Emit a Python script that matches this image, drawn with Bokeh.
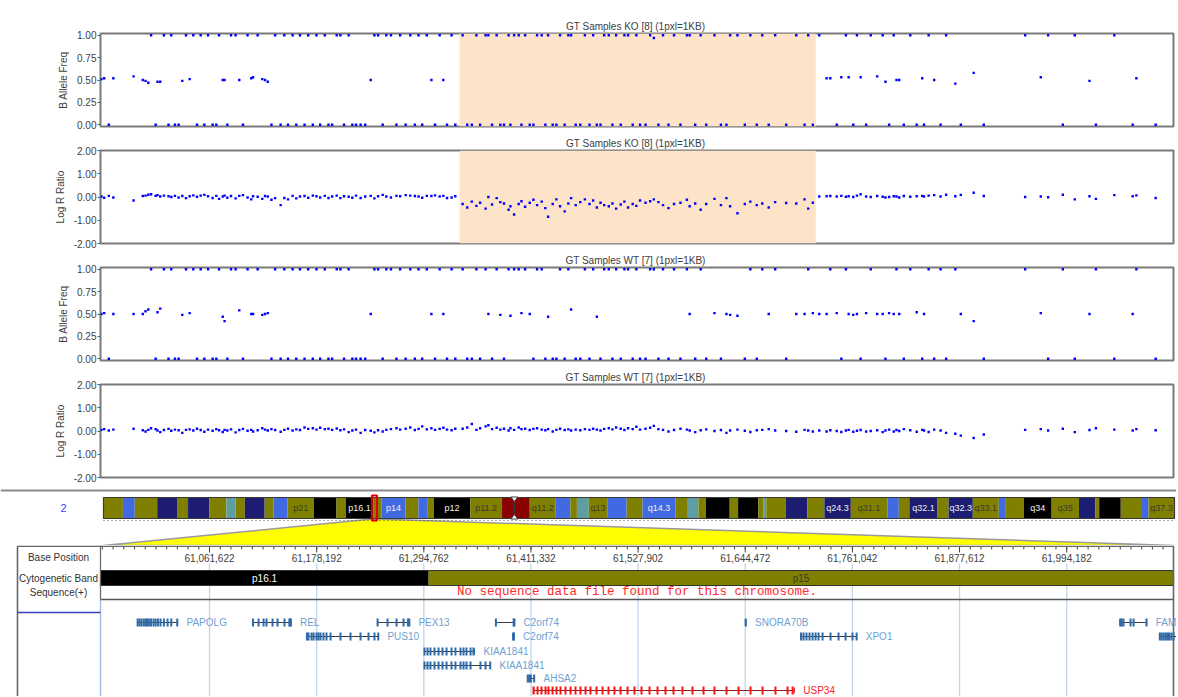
import numpy as np
from bokeh.plotting import figure
from bokeh.layouts import column
from bokeh.models import Range1d, BoxAnnotation, FixedTicker, PrintfTickFormatter
from bokeh.core.properties import value
from bokeh.embed import file_html
from bokeh.resources import INLINE

# ============================ DATA ============================
CHROM = "2"
VIEW_BP = [60943000, 62110400]          # window shown (1 pxl = 1 KB)
DEL_KB = [61333.7, 61721.2]             # highlighted (deleted) region in KO

PANEL_TITLES = ["GT Samples KO [8]  (1pxl=1KB)", "GT Samples KO [8]  (1pxl=1KB)",
                "GT Samples WT [7]  (1pxl=1KB)", "GT Samples WT [7]  (1pxl=1KB)"]
BAF_TICKS = [0.0, 0.25, 0.5, 0.75, 1.0]
LRR_TICKS = [-2.0, -1.0, 0.0, 1.0, 2.0]

# SNP positions (kb)
SNP_KB = [
    60944, 60947, 60952, 60957, 60979, 60989, 60992, 60995, 60998, 61003,
    61005, 61008, 61012, 61017, 61020, 61024, 61028, 61032, 61036, 61040,
    61044, 61048, 61052, 61056, 61060, 61065, 61069, 61072, 61076, 61078,
    61081, 61085, 61090, 61094, 61098, 61103, 61107, 61109, 61114, 61119,
    61122, 61125, 61129, 61133, 61139, 61143, 61147, 61152, 61156, 61160,
    61165, 61169, 61174, 61178, 61182, 61187, 61191, 61195, 61200, 61204,
    61208, 61213, 61217, 61221, 61226, 61231, 61237, 61241, 61245, 61250,
    61254, 61259, 61265, 61269, 61275, 61280, 61285, 61289, 61293, 61298,
    61303, 61307, 61312, 61316, 61320, 61325, 61329,
    61337, 61342, 61347, 61352, 61356, 61362, 61365, 61369, 61374, 61378,
    61382, 61387, 61389, 61393, 61398, 61401, 61405, 61410, 61414, 61418,
    61423, 61427, 61430, 61435, 61439, 61443, 61448, 61452, 61455, 61460,
    61465, 61470, 61475, 61479, 61483, 61487, 61491, 61496, 61500, 61504,
    61509, 61513, 61517, 61522, 61526, 61530, 61536, 61541, 61545, 61550,
    61555, 61561, 61567, 61574, 61581, 61584, 61590, 61596, 61602, 61611,
    61618, 61624, 61628, 61636, 61644, 61650, 61657, 61663, 61670, 61677,
    61689, 61700, 61709, 61713, 61718,
    61725, 61733, 61737, 61744, 61749, 61754, 61757, 61762, 61766, 61770,
    61776, 61781, 61788, 61794, 61797, 61801, 61806, 61809, 61812, 61817,
    61824, 61831, 61837, 61839, 61844, 61850, 61857, 61863, 61873, 61879,
    61893, 61904, 61949, 61966, 61974, 61990, 62003, 62019, 62026, 62046,
    62066, 62070, 62091,
]

KO_BAF = [
    .51, .52, 0, .52, .54, .50, .49, .47, 1, 0,
    .48, .48, 1, 0, 1, 0, 0, .49, 1, .51,
    1, 0, 1, 0, 1, 0, 0, 1, .50, .50,
    0, 1, 1, .50, 0, 1, .52, .53, 1, .51,
    .50, .48, 0, 1, 0, 1, 0, 1, 0, 1,
    0, 1, 0, 1, 0, 1, 0, 0, 1, 1,
    0, 1, 0, 0, 0, 0, .50, 1, 1, 0,
    1, 1, 0, 1, 0, 1, 0, 1, 0, 1,
    .50, 0, 1, .50, 0, 1, 0,
    1, 0, 0, 1, 0, 1, 1, 0, 1, 0,
    0, 1, 0, 1, 1, 0, 1, 0, 0, 1,
    1, 0, 1, 0, 0, 1, 0, 1, 1, 0,
    0, 1, 0, 1, 0, 0, 1, 1, 0, 1,
    0, 1, 1, 0, 1, 0, 0, 1, .97, 0,
    1, 0, 1, 0, 1, 1, 0, 1, 0, 1,
    0, 0, 1, 1, 0, 1, 0, 1, 0, 1,
    0, 1, 0, 1, 0,
    1, .52, .52, 0, .53, 1, .53, 0, 1, .53,
    0, 1, .54, 1, .48, 0, 1, .50, .50, 0,
    1, 0, .52, 0, 1, .50, 0, 1, .46, 0,
    .58, 0, 1, .53, 1, 0, 1, .49, 0, 1,
    0, .52, 0,
]

KO_LRR = [
    .02, -.03, .05, -.02, -.15, .04, .06, .10, .12, .05,
    .08, .02, .06, .03, .00, .05, -.02, .04, -.05, .03,
    .07, .01, .06, .09, .03, -.04, .05, -.08, .02, .06,
    -.03, .04, -.06, .05, .08, -.02, -.10, .03, .01, -.08,
    .04, .02, -.12, -.05, -.35, -.04, -.10, .05, -.06, .02,
    .04, -.03, .06, .03, -.02, .05, -.04, .02, .06, -.05,
    .03, .01, -.03, .06, -.04, .02, .05, -.06, .03, .09,
    .02, -.02, .05, .03, .08, .06, .04, .02, -.03, .05,
    .04, .07, .02, .05, -.04, -.02, .03,
    -.30, -.45, -.20, -.38, -.25, -.50, .00, -.32, -.05, -.22,
    -.28, -.55, -.40, -.75, -.30, -.18, -.42, -.25, -.12, -.35,
    -.20, -.48, -.85, -.30, -.10, -.40, -.62, -.28, -.05, -.35,
    -.22, -.10, -.30, -.15, -.45, -.25, -.35, -.40, -.28, -.50,
    -.32, -.20, -.45, -.30, -.38, -.15, -.25, -.18, -.10, -.22,
    -.35, -.48, -.30, -.25, -.12, -.40, -.28, -.55, -.30, -.08,
    -.35, -.05, -.40, -.70, -.30, -.20, -.35, -.28, -.45, -.22,
    -.26, -.28, -.10, -.50, -.25,
    .02, .03, .04, .02, .05, .01, .03, .00, .06, .12,
    .02, .00, .04, .01, -.02, .00, .03, .02, -.02, .04,
    .01, .03, .05, .02, .06, .08, .02, .10, .03, .09,
    .18, .04, .00, .02, -.01, .10, -.10, .03, -.08, .08,
    .03, .07, -.04,
]

WT_BAF = [
    .50, .51, 0, .50, .50, .50, .53, .55, 1, 0,
    .52, .56, 1, 0, 1, 0, 0, .49, 1, .51,
    1, 0, 1, 0, 1, 0, 0, 1, .47, .42,
    0, 1, 1, .54, 0, 1, .50, .50, 1, .49,
    .50, .51, 0, 1, 0, 1, 0, 1, 0, 1,
    0, 1, 0, 1, 0, 1, 0, 0, 1, 1,
    0, 1, 0, 0, 0, 0, .50, 1, 1, 0,
    1, 1, 0, 1, 0, 1, 0, 1, 0, 1,
    .50, 0, 1, .50, 0, 1, 0,
    1, 0, 0, 1, 0, 1, .50, 0, 1, .49,
    0, 1, .48, 1, 1, .51, 1, .50, 0, 1,
    1, 0, .47, 0, 0, 1, 0, 1, .55, 0,
    0, 1, 0, 1, .47, 0, 1, 1, 0, 1,
    0, 1, 1, 0, 1, 0, 0, 1, 1, 0,
    1, 0, 1, 0, 1, .50, 0, 1, 0, .51,
    0, .50, .49, .48, 0, 1, 0, 1, .50, 1,
    0, .50, .50, 1, .51,
    .50, .50, 1, .51, 0, 1, .50, .49, .50, 0,
    .51, 1, .50, .50, 0, .51, .50, 1, .50, 0,
    1, .52, 0, .50, 1, 0, 1, 0, 1, .50,
    .42, 0, 1, .51, 0, 1, 0, .50, 1, 0,
    .50, 1, 0,
]

WT_LRR = [
    .05, .08, .02, .06, .10, .03, -.02, .05, .12, .08,
    .02, -.05, .04, .09, .01, .06, .03, -.08, .05, .07,
    .02, .10, .04, -.03, .06, .01, .08, .03, -.04, .05,
    .02, .07, -.06, .04, .09, .01, .05, -.02, .03, .12,
    .06, .02, .08, .04, -.03, .05, .10, .02, .07, .04,
    .15, .09, .12, .06, .14, .08, .10, .05, .11, .03,
    .07, -.05, .02, .06, -.08, .04, .01, -.06, .03, -.02,
    .05, .08, .12, .06, .10, .15, .04, .09, .20, .07,
    .12, .05, .09, .14, .06, .03, .10,
    .10, .15, .30, .05, .12, .20, .25, .08, .14, .06,
    .10, .02, .12, .05, .15, .08, .10, .04, .09, .12,
    .06, .03, .08, -.02, .05, .10, .04, .07, .02, .06,
    .03, .08, .05, .10, .06, .02, .09, .12, .07, .15,
    .10, .04, .12, .08, .18, .06, .10, .14, .22, .08,
    .05, -.02, .04, .10, .06, .02, -.05, .03, .07, .00,
    .04, -.08, .02, .06, .01, -.04, .03, .05, .08, .02,
    .00, -.03, .05, .02, -.02,
    .02, -.02, .03, .00, -.04, .02, .05, -.03, .01, .04,
    -.02, .00, .03, -.05, .02, .06, -.02, .04, .00, .08,
    .03, -.03, .05, .02, -.04, .06, .02, -.08, -.12, -.20,
    -.30, -.15, .05, .08, .02, .10, -.05, .04, .12, .06,
    .02, .08, .03,
]

# Chromosome 2 cytobands (Mb)
CHR2_LEN_MB = 243.2
CEN_MB = 93.3
BAND_NAME = ["p25.3", "p25.2", "p25.1", "p24.3", "p24.2", "p24.1", "p23.3", "p23.2", "p23.1",
             "p22.3", "p22.2", "p22.1", "p21", "p16.3", "p16.2", "p16.1", "p15", "p14",
             "p13.3", "p13.2", "p13.1", "p12", "p11.2", "p11.1", "q11.1", "q11.2", "q12.1",
             "q12.2", "q12.3", "q13", "q14.1", "q14.2", "q14.3", "q21.1", "q21.2", "q21.3",
             "q22.1", "q22.2", "q22.3", "q23.1", "q23.2", "q23.3", "q24.1", "q24.2", "q24.3",
             "q31.1", "q31.2", "q31.3", "q32.1", "q32.2", "q32.3", "q33.1", "q33.2", "q33.3",
             "q34", "q35", "q36.1", "q36.2", "q36.3", "q37.1", "q37.2", "q37.3"]
BAND_START = [0, 4.4, 7.1, 12.2, 16.7, 19.2, 24.0, 27.9, 30.0, 32.1, 36.6, 38.6, 41.8, 47.8,
              52.9, 55.0, 61.3, 63.1, 68.6, 71.5, 73.5, 75.0, 83.3, 90.5, 93.3, 96.8, 102.7,
              106.0, 107.5, 110.2, 114.4, 118.8, 122.4, 129.9, 132.5, 135.1, 136.8, 142.2,
              144.1, 148.7, 149.9, 150.5, 154.9, 159.8, 163.7, 169.7, 178.0, 180.6, 183.0,
              189.4, 191.9, 197.4, 203.3, 204.9, 209.0, 215.3, 221.5, 225.2, 226.1, 231.0,
              235.6, 237.3]
BAND_STAIN = ["gneg", "gpos50", "gneg", "gpos75", "gneg", "gpos75", "gneg", "gpos25", "gneg",
              "gpos75", "gneg", "gpos50", "gneg", "gpos100", "gneg", "gpos100", "gneg", "gpos50",
              "gneg", "gpos50", "gneg", "gpos100", "gneg", "acen", "acen", "gneg", "gpos50",
              "gneg", "gpos25", "gneg", "gpos50", "gneg", "gpos50", "gneg", "gpos25", "gneg",
              "gpos100", "gneg", "gpos100", "gneg", "gpos25", "gneg", "gpos75", "gneg", "gpos75",
              "gneg", "gpos50", "gneg", "gpos75", "gneg", "gpos75", "gneg", "gpos50", "gneg",
              "gpos100", "gneg", "gpos75", "gneg", "gpos100", "gneg", "gpos50", "gneg"]
IDEO_LABELS = ["p21", "p16.1", "p14", "p12", "p11.2", "q11.2", "q13", "q14.3", "q24.3",
               "q31.1", "q32.1", "q32.3", "q33.1", "q34", "q35", "q37.3"]

# Genome browser track
BASE_TICKS = [61061622, 61178192, 61294762, 61411332, 61527902, 61644472, 61761042,
              61877612, 61994182]
TRACK_LABELS = ["Base Position", "Cytogenetic Band", "Sequence(+)"]
SEQ_MSG = "No sequence data file found for this chromosome."

GENE_NAME = ["PAPOLG", "REL", "PEX13", "C2orf74", "SNORA70B", "FAM161A", "PUS10", "C2orf74",
             "XPO1", "CCT4", "KIAA1841", "KIAA1841", "AHSA2", "USP34"]
GENE_ROW = [0, 0, 0, 0, 0, 0, 1, 1, 1, 1, 2, 3, 4, 5]
GENE_START_KB = [60983.4, 61108.8, 61244.3, 61373.0, 61644.6, 62052.0, 61167.4, 61391.5,
                 61705.0, 62095.2, 61295.5, 61295.5, 61407.6, 61414.6]
GENE_END_KB = [61026.8, 61150.2, 61279.1, 61393.5, 61645.4, 62081.3, 61245.4, 61393.0,
               61765.8, 62115.9, 61349.9, 61367.3, 61415.2, 61697.8]
GENE_EXONS_KB = [
    [60983.4, 60985.5, 60987.6, 60990.0, 60992.0, 60993.5, 60995.6, 60998.0, 61000.7,
     61003.0, 61005.5, 61008.3, 61012.0, 61016.0, 61020.0, 61026.5],
    [61108.9, 61115.0, 61120.4, 61123.6, 61130.2, 61135.6, 61143.2, 61148.5, 61149.5, 61150.0],
    [61244.5, 61255.3, 61265.1, 61272.7, 61277.5, 61279.0],
    [61373.2, 61392.5, 61393.3],
    [61645.0],
    [62052.5, 62054.0, 62056.0, 62063.7, 62067.0, 62081.0],
    [61167.6, 61169.3, 61172.6, 61174.8, 61178.0, 61180.2, 61182.4, 61185.6, 61188.9,
     61193.3, 61204.1, 61215.0, 61225.9, 61234.6, 61241.1, 61245.2],
    [61392.0, 61392.8],
    [61705.2, 61707.9, 61711.1, 61714.4, 61717.7, 61721.0, 61724.2, 61728.6, 61737.3,
     61746.0, 61753.6, 61761.2, 61765.6],
    [62095.5, 62097.4, 62099.5, 62101.5, 62103.5, 62105.5, 62108.0, 62110.5],
    [61295.5, 61298.8, 61302.0, 61306.4, 61310.8, 61315.1, 61319.5, 61324.9, 61329.2,
     61334.7, 61338.0, 61341.2, 61345.6, 61348.8],
    [61295.5, 61298.8, 61302.0, 61306.4, 61310.8, 61315.1, 61319.5, 61324.9, 61329.2,
     61334.7, 61338.0, 61341.2, 61345.6, 61356.4, 61361.9, 61367.0],
    [61407.8, 61409.5, 61411.2, 61414.8],
    [61414.1, 61418.5, 61422.8, 61427.2, 61430.4, 61434.8, 61439.1, 61443.5, 61448.9,
     61454.4, 61459.8, 61465.2, 61470.7, 61476.1, 61482.7, 61489.2, 61495.7, 61502.2,
     61508.8, 61516.4, 61524.0, 61531.6, 61540.3, 61549.0, 61557.7, 61566.4, 61576.2,
     61587.1, 61599.1, 61611.0, 61624.1, 61637.2, 61650.2, 61663.3, 61677.4, 61690.5,
     61696.0],
]
HIGHLIGHT_GENE = "USP34"

assert len(SNP_KB) == len(KO_BAF) == len(KO_LRR) == len(WT_BAF) == len(WT_LRR)
assert len(BAND_NAME) == len(BAND_START) == len(BAND_STAIN)

# ============================ LAYOUT / STYLE ============================
W = 1176
FONT = "Liberation Sans"
FRAME_L, FRAME_R = 100, 1173         # canvas x of data frame
IDEO_L, IDEO_R = 103, 1174           # canvas x of chromosome ends
TXT = "#404040"
STAIN_COLOR = {"gneg": "#808000", "gpos25": "#5f9ea0", "gpos50": "#4169e1",
               "gpos75": "#1c1c72", "gpos100": "#000000", "acen": "#8b0000"}
VIEW0, VIEW1 = VIEW_BP
SNP_BP = [k * 1000 for k in SNP_KB]


def snp_panel(title, ylabel, yvals, yrange, yticks, height, top_border, shade):
    p = figure(width=W, height=height, title=title,
               x_range=Range1d(VIEW0, VIEW1), y_range=Range1d(*yrange),
               x_axis_location=None, output_backend="svg", toolbar_location=None,
               min_border_left=FRAME_L, min_border_right=W - FRAME_R,
               min_border_top=top_border, min_border_bottom=7)
    p.title.align = "center"
    p.title.text_font = FONT
    p.title.text_font_size = "10px"
    p.title.text_font_style = "normal"
    p.title.text_color = TXT
    p.title.standoff = 3
    p.grid.visible = False
    p.outline_line_color = "#7a7a7a"
    p.outline_line_width = 2
    ax = p.yaxis[0]
    ax.ticker = FixedTicker(ticks=yticks)
    ax.formatter = PrintfTickFormatter(format="%.2f")
    ax.axis_label = ylabel
    ax.axis_label_text_font = FONT
    ax.axis_label_text_font_size = "10px"
    ax.axis_label_text_font_style = "normal"
    ax.axis_label_text_color = TXT
    ax.axis_label_standoff = 5
    ax.major_label_text_font = FONT
    ax.major_label_text_font_size = "10px"
    ax.major_label_text_color = TXT
    ax.major_label_standoff = 1
    ax.major_tick_out = 3
    ax.major_tick_in = 0
    ax.major_tick_line_color = "#606060"
    ax.minor_tick_line_color = None
    ax.axis_line_color = None
    if shade:
        p.add_layout(BoxAnnotation(left=DEL_KB[0] * 1000, right=DEL_KB[1] * 1000,
                                   fill_color="#fde4c8", fill_alpha=1.0, line_color=None,
                                   level="underlay"))
    p.scatter(x=SNP_BP, y=yvals, marker="square", size=2.4,
              fill_color="#0000ff", line_color=None)
    return p


p1 = snp_panel(PANEL_TITLES[0], "B Allele Freq", KO_BAF, (-0.02, 1.02), BAF_TICKS, 133, 33, True)
p2 = snp_panel(PANEL_TITLES[1], "Log R Ratio", KO_LRR, (-2, 2), LRR_TICKS, 117, 17, True)
p3 = snp_panel(PANEL_TITLES[2], "B Allele Freq", WT_BAF, (-0.02, 1.02), BAF_TICKS, 117, 17, False)
p4 = snp_panel(PANEL_TITLES[3], "Log R Ratio", WT_LRR, (-2, 2), LRR_TICKS, 117, 17, False)

# ---------------- ideogram ----------------
IDEO_H = 61
BAND_END = BAND_START[1:] + [CHR2_LEN_MB]
s2 = CHR2_LEN_MB / (IDEO_R - IDEO_L)
ideo = figure(width=W, height=IDEO_H,
              x_range=Range1d(-IDEO_L * s2, CHR2_LEN_MB + (W - IDEO_R) * s2),
              y_range=Range1d(IDEO_H, 0), x_axis_location=None, y_axis_location=None,
              min_border=0, output_backend="svg", toolbar_location=None)
ideo.extra_x_ranges = {"px": Range1d(0, W)}
ideo.outline_line_color = None
ideo.grid.visible = False

ideo.segment(x0=[0], y0=[6], x1=[W], y1=[6], x_range_name="px",
             line_color="#8c8c8c", line_width=2)
ideo.patch(x=[0, VIEW0 / 1e6, VIEW1 / 1e6, CHR2_LEN_MB], y=[IDEO_H, 34.5, 34.5, IDEO_H],
           fill_color="#ffff00", line_color="#9a9a9a", line_width=1.5)
ideo.quad(left=BAND_START, right=BAND_END, top=13, bottom=34,
          fill_color=[STAIN_COLOR[s] for s in BAND_STAIN], line_color=None)
ideo.quad(left=[0, CEN_MB], right=[CEN_MB, CHR2_LEN_MB], top=13, bottom=34,
          fill_color=None, line_color="#3a3a3a", line_width=1.2)
ideo.patches(xs=[[CEN_MB - 0.8, CEN_MB + 0.8, CEN_MB], [CEN_MB - 0.8, CEN_MB + 0.8, CEN_MB]],
             ys=[[12.5, 12.5, 17], [34.5, 34.5, 30]], fill_color="white", line_color="#3a3a3a",
             line_width=1)
ideo.segment(x0=[0], y0=[36], x1=[CHR2_LEN_MB], y1=[36], line_color="#555555",
             line_dash="1 3", line_width=1)
lab_idx = [BAND_NAME.index(n) for n in IDEO_LABELS]
ideo.text(x=[(BAND_START[i] + BAND_END[i]) / 2 for i in lab_idx], y=23.5,
          text=[BAND_NAME[i] for i in lab_idx],
          text_color=["#3a3a2a" if BAND_STAIN[i] == "gneg" else "#f0f0f0" for i in lab_idx],
          text_font=value(FONT), text_font_size=value("9px"), text_align="center",
          text_baseline="middle")
ideo.quad(left=[VIEW0 / 1e6], right=[VIEW1 / 1e6], top=[11], bottom=[36],
          fill_color=None, line_color="#e00000", line_width=2)
ideo.text(x=[63], y=[23.5], text=[CHROM], x_range_name="px", text_color="#3c3cff",
          text_font=value(FONT), text_font_size=value("11px"), text_align="center",
          text_baseline="middle")

# ---------------- genome browser track ----------------
GENE_H = 151
ROW_Y = [77, 91, 106, 120, 133, 145]
gs = (VIEW1 - VIEW0) / (FRAME_R - FRAME_L)
gene = figure(width=W, height=GENE_H,
              x_range=Range1d(VIEW0 - FRAME_L * gs, VIEW0 + (W - FRAME_L) * gs),
              y_range=Range1d(GENE_H, 0), x_axis_location=None, y_axis_location=None,
              min_border=0, output_backend="svg", toolbar_location=None)
gene.extra_x_ranges = {"px": Range1d(0, W)}
gene.outline_line_color = None
gene.grid.visible = False

# grid lines
gene.segment(x0=BASE_TICKS, y0=18, x1=BASE_TICKS, y1=GENE_H, line_color="#c2d5ea", line_width=1.3)
gene.segment(x0=[FRAME_L], y0=[54], x1=[FRAME_L], y1=[GENE_H], x_range_name="px",
             line_color="#a8c2de", line_width=1.5)
# ruler
step = (BASE_TICKS[1] - BASE_TICKS[0]) / 10
minor = np.arange(BASE_TICKS[0] - 10 * step, VIEW1, step)
minor = minor[(minor > VIEW0) & (minor < VIEW1)]
gene.segment(x0=minor, y0=1, x1=minor, y1=4, line_color="#444444", line_width=1)
gene.segment(x0=BASE_TICKS, y0=1, x1=BASE_TICKS, y1=7, line_color="#444444", line_width=1)
gene.text(x=BASE_TICKS, y=12, text=[f"{t:,}" for t in BASE_TICKS], text_color=TXT,
          text_font=value(FONT), text_font_size=value("10px"), text_align="center",
          text_baseline="middle")
# cytogenetic band bar
vis = [i for i in range(len(BAND_NAME)) if BAND_END[i] * 1e6 > VIEW0 and BAND_START[i] * 1e6 < VIEW1]
bl = [max(BAND_START[i] * 1e6, VIEW0) for i in vis]
br = [min(BAND_END[i] * 1e6, VIEW1) for i in vis]
gene.quad(left=bl, right=br, top=25, bottom=40,
          fill_color=[STAIN_COLOR[BAND_STAIN[i]] for i in vis], line_color=None)
gene.quad(left=[VIEW0], right=[VIEW1], top=[25], bottom=[40], fill_color=None,
          line_color="#333333", line_width=1.2)
gene.text(x=[(a + b) / 2 for a, b in zip(bl, br)], y=32.5, text=[BAND_NAME[i] for i in vis],
          text_color=["#3a3a2a" if BAND_STAIN[i] == "gneg" else "#ffffff" for i in vis],
          text_font=value(FONT), text_font_size=value("10px"), text_align="center",
          text_baseline="middle")
# sequence message
gene.text(x=[(VIEW0 + VIEW1) / 2], y=[46.5], text=[SEQ_MSG], text_color="#ff2a2a",
          text_font=value("Liberation Mono"), text_font_size=value("12.5px"),
          text_align="center", text_baseline="middle")
# frame lines
gene.segment(x0=[FRAME_L], y0=[54], x1=[FRAME_R], y1=[54], x_range_name="px",
             line_color="#555555", line_width=1.5)
gene.quad(left=[17], right=[FRAME_R], top=[0.8], bottom=[GENE_H + 5], x_range_name="px",
          fill_color=None, line_color="#666666", line_width=1.6)
gene.segment(x0=[FRAME_L], y0=[0], x1=[FRAME_L], y1=[54], x_range_name="px",
             line_color="#666666", line_width=1.2)
gene.segment(x0=[17], y0=[67], x1=[FRAME_L], y1=[67], x_range_name="px",
             line_color="#3344bb", line_width=1.5)
gene.text(x=[58, 58, 58], y=[12, 33, 47], text=TRACK_LABELS, x_range_name="px",
          text_color="#333333", text_font=value(FONT), text_font_size=value("10px"),
          text_align="center", text_baseline="middle")
# genes
gy = [ROW_Y[r] for r in GENE_ROW]
gsb = [k * 1000 for k in GENE_START_KB]
geb = [k * 1000 for k in GENE_END_KB]
hl = [n == HIGHLIGHT_GENE for n in GENE_NAME]
gene.segment(x0=gsb, y0=gy, x1=geb, y1=gy,
             line_color=["#8a2020" if h else "#3c3c3c" for h in hl], line_width=1)
gene.segment(x0=gsb + geb, y0=[y - 3 for y in gy] * 2, x1=gsb + geb, y1=[y + 3 for y in gy] * 2,
             line_color=(["#cc0000" if h else "#2f6aa8" for h in hl]) * 2, line_width=1)
ex_x, ex_y, ex_c = [], [], []
for i, exons in enumerate(GENE_EXONS_KB):
    for e in exons:
        ex_x.append(e * 1000)
        ex_y.append(gy[i])
        ex_c.append("#ff1010" if hl[i] else "#2f6aa8")
gene.rect(x=ex_x, y=ex_y, width=2, height=8, width_units="screen",
          fill_color=ex_c, line_color=None)
shown = [i for i in range(len(GENE_NAME)) if GENE_END_KB[i] * 1000 < VIEW1]
gene.text(x=[geb[i] for i in shown], y=[gy[i] for i in shown],
          text=[GENE_NAME[i] for i in shown], x_offset=9,
          text_color=["#ff2020" if hl[i] else "#6f9fd2" for i in shown],
          text_font=value(FONT), text_font_size=value("10px"), text_align="left",
          text_baseline="middle")

layout = column(column(p1, p2, p3, p4, spacing=0), column(ideo, gene, spacing=0), spacing=0)
open("out.html", "w").write(file_html(layout, INLINE))
